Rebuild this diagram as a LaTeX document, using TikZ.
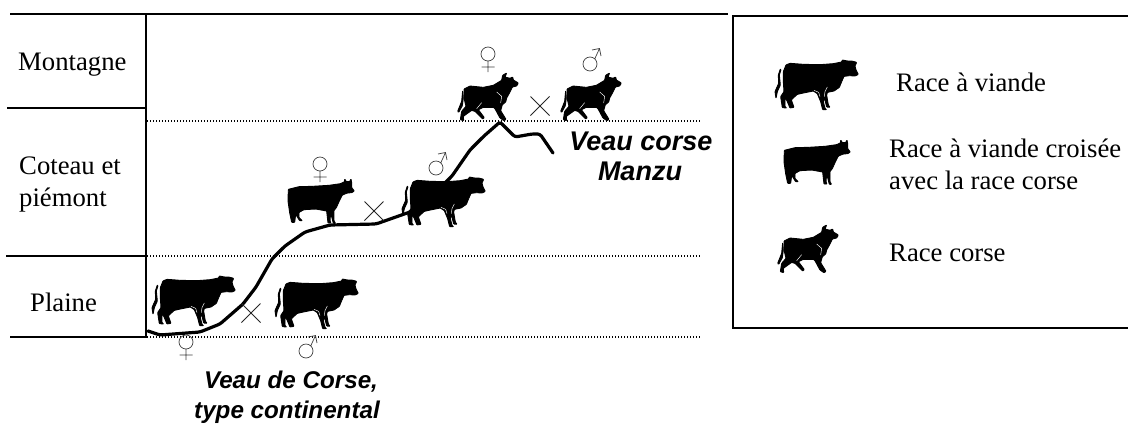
\documentclass[tikz,border=0pt]{standalone}
\usepackage{fontspec}
\setmainfont{Liberation Serif}
\setsansfont{Liberation Sans}
\tikzset{
  rule/.style={line width=2pt,black},
  level/.style={line width=1.1pt,black,dash pattern=on 1.2pt off 1.8pt},
  route/.style={line width=3.2pt,black,line join=round,line cap=round,rounded corners=2.5pt},
  sexsym/.style={line width=0.7pt,black!75},
  crossmark/.style={line width=1pt,black!85},
  hide/.style={fill=black,draw=black,line width=0.9pt,line join=round,rounded corners=0.6pt},
  gap/.style={draw=white,line width=0.45pt},
  lab/.style={font=\fontsize{26.7}{26.7}\selectfont,anchor=base west,inner sep=0pt},
  veaua/.style={font=\fontsize{27}{27}\sffamily\bfseries\itshape\selectfont,anchor=base,inner sep=0pt},
  veaub/.style={font=\fontsize{24.2}{24.2}\sffamily\bfseries\itshape\selectfont,anchor=base,inner sep=0pt}
}
\newcommand\beefcow[2]{\begin{scope}[shift={(#1,#2)},x=0.3333pt,y=-0.3333pt]
\fill[hide] (48,30)--(60,25)--(100,28)--(150,29)--(190,26)--(215,21)--(217,15)--(232,18)--(245,18)--(260,22)--(255,33)--(258,45)--(265,58)--(255,63)--(238,62)--(222,64)--(215,80)--(208,97)--(192,108)--(172,112)--(170,120)--(175,150)--(180,157)--(170,156)--(163,128)--(160,140)--(165,160)--(170,164)--(158,164)--(152,140)--(142,116)--(130,108)--(100,114)--(82,118)--(74,125)--(64,135)--(72,157)--(60,159)--(50,135)--(45,130)--(45,155)--(50,159)--(37,158)--(32,125)--(42,110)--(40,80)--(40,50)--cycle;
\fill[hide] (31,42)--(25,60)--(26,85)--(15,110)--(18,130)--(22,110)--(31,90)--(28,60)--(33,44)--cycle;
\draw[gap] (132,106)--(146,112)--(150,125);
\draw[gap] (172,96)--(165,110)--(163,125);
\end{scope}}
\newcommand\crosscow[2]{\begin{scope}[shift={(#1,#2)},x=0.3333pt,y=-0.3333pt]
\fill[hide] (28,55)--(60,47)--(100,46)--(150,43)--(185,38)--(197,32)--(197,24)--(202,32)--(212,32)--(216,24)--(218,35)--(218,50)--(226,60)--(218,65)--(205,66)--(190,72)--(180,92)--(172,110)--(165,118)--(165,150)--(170,157)--(163,157)--(155,125)--(153,150)--(156,156)--(147,156)--(143,120)--(110,114)--(75,116)--(60,124)--(60,140)--(70,149)--(62,149)--(50,130)--(47,154)--(38,154)--(32,125)--(27,90)--cycle;
\end{scope}}
\newcommand\bullcow[2]{\begin{scope}[shift={(#1,#2)},x=0.3333pt,y=-0.3333pt]
\fill[hide] (42,63)--(60,54)--(100,58)--(130,52)--(155,37)--(158,22)--(170,15)--(165,27)--(180,31)--(188,27)--(190,36)--(205,45)--(200,54)--(187,57)--(180,72)--(170,90)--(167,102)--(157,110)--(152,128)--(168,154)--(162,158)--(150,150)--(135,122)--(130,118)--(100,118)--(85,125)--(103,149)--(98,153)--(75,130)--(65,127)--(40,145)--(41,158)--(31,155)--(35,130)--(48,115)--(42,90)--cycle;
\fill[hide] (38,68)--(35,100)--(23,130)--(26,133)--(37,113)--(40,90)--cycle;
\draw[gap] (140,72)--(155,85)--(152,105);
\draw[gap] (80,122)--(95,104);
\end{scope}}
\newcommand\femalesym[2]{\draw[sexsym] (#1,#2) circle (7pt) (#1,#2+7) -- (#1,#2+18) (#1-6.5,#2+13) -- (#1+6.5,#2+13);}
\newcommand\malesym[2]{\draw[sexsym] (#1,#2) circle (7pt) (#1+4.7,#2-5) -- (#1+9.5,#2-15.5) (#1+2,#2-14) -- (#1+9.5,#2-15.5) -- (#1+11,#2-8);}
\newcommand\crosssym[2]{\draw[crossmark] (#1-9.5,#2-9.5) -- (#1+9.5,#2+9.5) (#1-9.5,#2+9.5) -- (#1+9.5,#2-9.5);}
\begin{document}
\begin{tikzpicture}[x=1pt,y=-1pt]
\useasboundingbox (0,0) rectangle (1128,424);
% frame of the levels
\coordinate (t0) at (10,14); \coordinate (t1) at (728,14);
\coordinate (v0) at (146,13); \coordinate (v1) at (146,338);
\coordinate (a0) at (7,108); \coordinate (a1) at (146,108);
\coordinate (b0) at (6,256); \coordinate (b1) at (146,256);
\coordinate (c0) at (10,337); \coordinate (c1) at (146,337);
\draw[rule] (t0) -- (t1);
\draw[rule] (v0) -- (v1);
\draw[rule] (a0) -- (a1);
\draw[rule] (b0) -- (b1);
\draw[rule] (c0) -- (c1);
\coordinate (d1) at (147,121); \coordinate (d2) at (147,256); \coordinate (d3) at (147,337);
\coordinate (e1) at (700,121); \coordinate (e2) at (700,256); \coordinate (e3) at (700,337);
\draw[level] (d1) -- (e1);
\draw[level] (d2) -- (e2);
\draw[level] (d3) -- (e3);
% legend frame
\coordinate (l0) at (1128,16); \coordinate (l1) at (733,16); \coordinate (l2) at (733,328); \coordinate (l3) at (1128,328);
\draw[rule] (l0) -- (l1) -- (l2) -- (l3);
% route
\draw[route] (148,331) -- (160,335) -- (200,332) -- (220,324) -- (243,304) -- (256,287) -- (272,259) -- (285,246) -- (305,232) -- (330,225) -- (376,224) -- (410,212) -- (440,188) -- (452,176) -- (470,150) -- (484,136) -- (500,122) -- (515,137) -- (532,134) -- (540,134) -- (553,153);
% cows
\beefcow{147}{271}
\beefcow{270}{274}
\beefcow{397}{172}
\beefcow{770}{55}
\crosscow{279}{171}
\crosscow{775}{132}
\bullcow{450}{68}
\bullcow{553}{68}
\bullcow{770}{220}
% symbols
\femalesym{186}{342}
\malesym{306}{351}
\femalesym{320}{164}
\malesym{436}{168}
\femalesym{488}{54}
\malesym{590}{64}
\crosssym{251}{313}
\crosssym{374}{211}
\crosssym{540}{106}
% labels
\node[lab] (n1) at (18,70.5) {Montagne};
\node[lab] (n2) at (19,174) {Coteau et};
\node[lab] (n3) at (19,206) {piémont};
\node[lab] (n4) at (30,311.5) {Plaine};
\node[veaua] (v1t) at (641,150) {Veau corse};
\node[veaua] (v2t) at (640,180) {Manzu};
\node[veaub] (v3t) at (291,388) {Veau de Corse,};
\node[veaub] (v4t) at (287,418) {type continental};
\node[lab] (r1) at (896,91) {Race à viande};
\node[lab] (r2) at (889,157) {Race à viande croisée};
\node[lab] (r3) at (889,189.5) {avec la race corse};
\node[lab] (r4) at (889,261) {Race corse};
\end{tikzpicture}
\end{document}
